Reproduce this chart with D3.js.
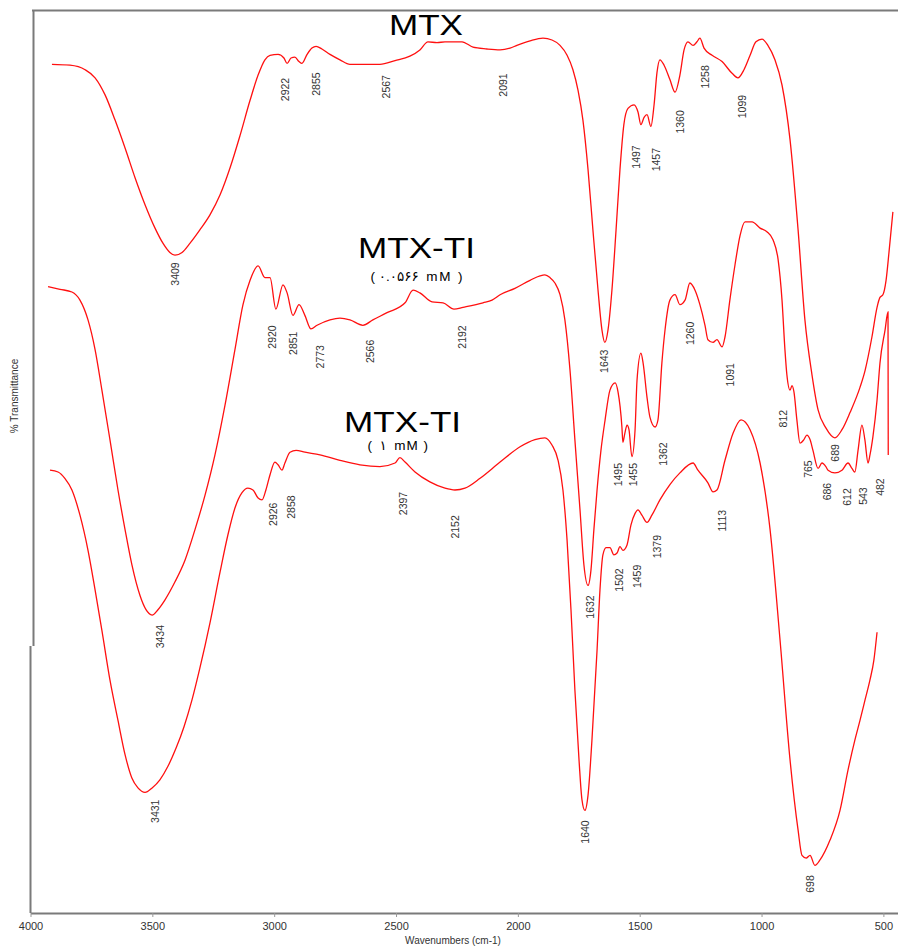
<!DOCTYPE html>
<html><head><meta charset="utf-8">
<script src="https://cdn.jsdelivr.net/npm/d3@7"></script>
<style>body{margin:0;background:#fff}svg{display:block}</style>
</head><body>
<svg id="c" width="898" height="947"></svg>
<script>
// Wavenumber (apparent axis position, cm-1) and %T (arbitrary offset units)
const mtxWn = [3912,3838,3776,3735,3694,3653,3612,3571,3530,3489,3456,3428,3407,3378,3346,3305,3263,3222,3181,3140,3099,3066,3038,3017,2984,2960,2947,2931,2915,2898,2886,2865,2845,2828,2804,2771,2730,2689,2627,2566,2504,2443,2402,2369,2332,2299,2229,2184,2127,2073,2032,2004,1950,1897,1860,1827,1798,1774,1753,1733,1712,1692,1671,1655,1643,1630,1614,1597,1581,1565,1548,1523,1507,1495,1482,1470,1454,1441,1429,1417,1400,1376,1355,1335,1318,1302,1281,1265,1253,1236,1203,1162,1121,1097,1072,1047,1023,998,974,945,916,883,850,822,793,768,736,699,670,637,596,575,547,526,514,502,489,477,461];
const mtxT  = [94.3,94.2,93.7,92.8,90.9,88.1,85.0,81.7,78.7,76.1,74.4,73.4,73.1,73.4,74.4,75.9,77.6,79.8,82.8,86.4,90.3,93.1,94.8,95.3,95.4,95.0,94.4,95.0,95.1,94.6,94.4,95.4,96.1,96.3,96.0,95.4,94.8,94.3,94.3,94.3,94.7,95.2,95.9,96.8,96.7,96.8,96.8,96.2,96.0,95.9,96.1,96.4,96.9,97.2,97.0,96.4,95.3,93.7,91.4,88.1,82.6,75.9,69.2,64.8,63.4,64.8,69.2,75.9,82.6,87.6,89.4,89.8,89.0,87.6,88.4,88.7,87.4,89.8,93.4,94.8,94.2,92.6,91.2,93.1,95.9,96.8,96.4,96.8,97.2,96.1,95.3,94.6,93.3,92.8,93.7,95.3,96.8,97.1,96.4,94.8,92.0,85.9,75.9,65.9,59.8,55.9,53.9,52.8,53.7,55.6,58.4,60.3,64.0,67.3,68.4,68.7,70.3,73.4,77.9];

const ti1Wn = [3928,3879,3830,3797,3764,3735,3707,3674,3641,3612,3584,3551,3526,3501,3477,3448,3407,3366,3325,3284,3243,3202,3161,3128,3099,3066,3038,3017,2993,2964,2947,2923,2898,2874,2849,2824,2771,2730,2689,2636,2595,2537,2463,2430,2402,2352,2307,2262,2225,2143,2106,2073,2012,1950,1909,1889,1868,1848,1827,1807,1786,1766,1745,1729,1712,1700,1688,1675,1659,1642,1622,1601,1589,1573,1569,1561,1552,1544,1532,1519,1511,1495,1486,1470,1458,1437,1425,1409,1396,1376,1355,1335,1314,1294,1273,1253,1232,1220,1199,1183,1162,1150,1130,1109,1088,1068,1039,1006,978,953,932,916,904,896,883,875,867,855,842,826,814,801,789,768,752,736,727,699,670,645,629,617,604,588,576,563,555,543,526,514,493,481,480];
const ti1T  = [69.6,69.3,69.0,68.1,65.9,62.6,58.1,52.6,47.0,42.6,38.7,35.3,33.7,33.1,33.7,34.8,36.8,39.2,42.6,46.4,50.9,56.4,62.6,67.6,70.3,71.9,70.6,70.6,67.1,69.8,68.9,66.4,67.6,66.4,64.9,65.3,65.9,66.1,65.9,65.3,65.9,66.7,67.8,69.2,68.9,67.9,67.8,67.1,67.3,67.8,68.1,68.7,69.4,70.3,70.8,70.9,70.6,70.0,68.7,65.9,60.3,52.6,44.8,38.7,36.4,38.1,42.6,47.0,51.4,54.8,58.1,58.9,57.9,54.0,52.3,53.3,54.2,53.7,50.7,53.7,59.2,62.2,61.1,57.3,55.1,54.0,54.8,61.1,64.8,68.1,68.7,67.6,68.1,70.0,69.2,67.6,65.3,63.7,63.4,63.7,62.9,64.0,68.1,72.0,75.3,76.8,76.8,76.1,75.7,74.8,72.6,68.1,62.6,59.8,58.1,58.6,57.9,54.8,52.2,52.6,53.1,52.6,51.4,49.4,50.0,49.6,49.2,48.9,49.2,50.0,49.4,49.0,51.4,54.2,52.6,50.0,50.9,52.9,57.0,61.1,64.8,66.8,50.9];

const ti2Wn = [3920,3887,3859,3830,3797,3764,3735,3707,3674,3641,3612,3584,3559,3530,3501,3469,3436,3403,3370,3337,3305,3263,3222,3190,3161,3132,3108,3087,3066,3050,3034,3017,2997,2984,2968,2956,2935,2910,2874,2812,2730,2648,2566,2504,2484,2463,2422,2361,2299,2258,2217,2155,2073,1991,1930,1889,1860,1835,1815,1798,1782,1766,1749,1737,1725,1712,1696,1675,1663,1651,1638,1622,1606,1593,1581,1569,1552,1536,1519,1507,1491,1470,1450,1417,1376,1335,1281,1261,1220,1199,1183,1150,1117,1084,1047,1006,965,924,883,850,834,817,801,781,760,719,678,645,617,596,575,555,539,526];
const ti2T  = [49.2,49.0,48.3,47.0,44.2,40.3,35.9,31.4,25.9,21.4,17.6,15.0,13.9,13.4,13.9,14.8,16.3,18.3,20.7,23.7,27.2,32.3,37.9,42.0,45.0,46.7,47.2,47.0,46.1,45.9,47.0,48.7,50.1,49.8,49.2,50.0,51.2,51.4,51.2,50.9,50.3,49.8,49.6,50.0,50.6,50.1,49.0,47.9,47.2,47.0,47.2,48.3,50.1,51.8,52.6,52.8,52.0,50.3,47.0,41.4,33.7,24.8,17.0,12.6,11.4,13.1,19.2,29.2,35.9,39.8,40.6,40.6,39.8,40.0,40.7,40.3,40.9,43.1,44.4,44.8,44.2,43.4,44.2,45.9,47.6,48.9,50.0,49.2,47.8,46.8,47.0,50.3,53.3,54.8,53.7,50.0,42.6,30.3,17.0,9.2,6.4,6.1,6.4,5.3,5.9,8.1,11.4,15.9,19.2,21.4,23.7,25.9,28.1,31.2];

// Peak labels: text, apparent wavenumber, %T at top of the label
const mtxPeaks = ["3409","2922","2855","2567","2091","1643","1497","1457","1360","1258","1099","689"];
const mtxPeakWn = [3407,2956,2828,2541,2061,1647,1515,1433,1335,1232,1080,699];
const mtxPeakT  = [72.3,92.8,93.4,93.1,93.3,62.6,85.3,85.0,89.2,94.2,90.9,52.1];

const ti1Peaks = ["3434","2920","2851","2773","2566","2192","1632","1495","1455","1362","1260","1091","812","765","686","612","543","482"];
const ti1PeakWn = [3469,3009,2923,2812,2607,2229,1704,1589,1528,1404,1294,1130,912,809,731,649,584,514];
const ti1PeakT  = [32.0,65.3,64.6,63.1,63.7,65.3,35.3,50.0,50.0,52.3,65.7,61.1,55.9,50.3,47.8,47.2,47.3,48.3];

const ti2Peaks = ["3431","2926","2858","2397","2152","1640","1502","1459","1379","1113","698"];
const ti2PeakWn = [3489,3005,2931,2471,2258,1725,1585,1511,1429,1162,801];
const ti2PeakT  = [12.6,45.6,46.4,46.8,44.2,10.3,38.3,38.7,42.0,44.8,4.2];

const titles = ["MTX","MTX-TI","MTX-TI"];
const subtitles = ["","( ۰.۰۵۶۶  mM )","(  ۱  mM )"];
const titleWn = [2377,2416,2473];
const subWn   = [0,2416,2493];
const titleT  = [97.6,72.8,53.5];
const subT    = [0,70.2,51.45];
const subSpacing = [0,1.8,1.0];

const xTicks = [4000,3500,3000,2500,2000,1500,1000,500];
const xTitle = "Wavenumbers (cm-1)";
const yTitle = "% Transmittance";

const svg = d3.select("#c");
const x = d3.scaleLinear().domain([4000, 440]).range([30.5, 898]);
const y = d3.scaleLinear().domain([0, 100]).range([913, 13]);

// frame
svg.append("line").attr("x1",32).attr("x2",898).attr("y1",10.5).attr("y2",10.5).attr("stroke","#7a7a7a").attr("stroke-width",2);
svg.append("line").attr("x1",33.5).attr("x2",33.5).attr("y1",10).attr("y2",646).attr("stroke","#7a7a7a").attr("stroke-width",2);
svg.append("line").attr("x1",30.5).attr("x2",30.5).attr("y1",646).attr("y2",913).attr("stroke","#7a7a7a").attr("stroke-width",2);

const ax = svg.append("g").attr("transform","translate(0,913)")
  .call(d3.axisBottom(x).tickValues(xTicks).tickSize(4).tickSizeOuter(0).tickFormat(d3.format("d")));
ax.select(".domain").attr("stroke","#7a7a7a").attr("stroke-width",2);
ax.selectAll(".tick line").attr("stroke","#999");
ax.selectAll(".tick text").attr("font-family","Liberation Sans, Arial, sans-serif").attr("font-size",11).attr("fill","#333").attr("dy","0.9em");

svg.append("text").attr("x",453).attr("y",944).attr("text-anchor","middle")
  .attr("font-family","Liberation Sans, Arial, sans-serif").attr("font-size",10).attr("fill","#333").text(xTitle);
svg.append("text").attr("transform","translate(18,396) rotate(-90)").attr("text-anchor","middle")
  .attr("font-family","Liberation Sans, Arial, sans-serif").attr("font-size",10).attr("fill","#333").text(yTitle);

const line = d3.line().x(d=>x(d[0])).y(d=>y(d[1])).curve(d3.curveMonotoneX);
[[mtxWn,mtxT],[ti1Wn,ti1T],[ti2Wn,ti2T]].forEach(([w,t])=>{
  svg.append("path").datum(w.map((v,i)=>[v,t[i]])).attr("d",line)
    .attr("fill","none").attr("stroke","#ff1010").attr("stroke-width",1.3);
});

[[mtxPeaks,mtxPeakWn,mtxPeakT],[ti1Peaks,ti1PeakWn,ti1PeakT],[ti2Peaks,ti2PeakWn,ti2PeakT]].forEach(([p,w,t])=>{
  svg.append("g").selectAll("text").data(p).join("text")
    .attr("transform",(d,i)=>`translate(${x(w[i])},${y(t[i])}) rotate(-90)`)
    .attr("text-anchor","end").attr("dy","0.35em")
    .attr("font-family","Liberation Sans, Arial, sans-serif").attr("font-size",10.5).attr("fill","#333")
    .text(d=>d);
});

titles.forEach((tt,i)=>{
  svg.append("text").attr("x",x(titleWn[i])).attr("y",y(titleT[i])).attr("text-anchor","middle")
    .attr("font-family","Liberation Sans, Arial, sans-serif").attr("font-size",30).attr("fill","#000")
    .attr("textLength", tt.length===3?74:117).attr("lengthAdjust","spacingAndGlyphs").text(tt);
  if (subtitles[i]) {
    svg.append("text").attr("x",x(subWn[i])).attr("y",y(subT[i])).attr("text-anchor","middle")
      .attr("font-family","Liberation Sans, DejaVu Sans, sans-serif").attr("font-size",13.5).attr("fill","#000")
      .attr("letter-spacing",subSpacing[i])
      .style("white-space","pre").text(subtitles[i]);
  }
});
</script>
</body></html>
